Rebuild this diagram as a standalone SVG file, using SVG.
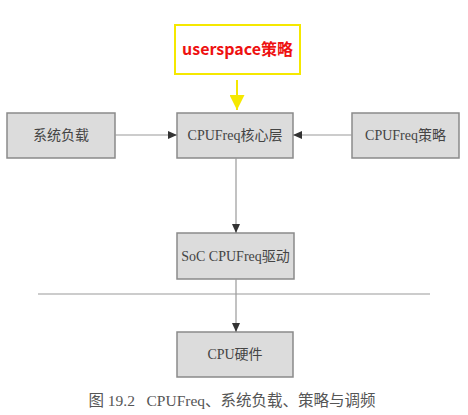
<svg xmlns="http://www.w3.org/2000/svg" width="468" height="415" viewBox="0 0 468 415">
<style>
.box{fill:#dcdcdc;stroke:#8a8a8a;stroke-width:1.5}
.lbl{font-family:"Liberation Serif","Noto Sans CJK SC",serif;font-size:14px;fill:#444;text-anchor:middle}
.ln{stroke:#999;stroke-width:1.2;fill:none}
</style>
<defs>
<marker id="ah" markerWidth="10" markerHeight="8" refX="9" refY="4" orient="auto" markerUnits="userSpaceOnUse">
<path d="M0,0 L9,4 L0,8 Z" fill="#333"/>
</marker>
<marker id="ay" markerWidth="16" markerHeight="15" refX="15" refY="7.5" orient="auto" markerUnits="userSpaceOnUse">
<path d="M0,0 L15,7.5 L0,15 Z" fill="#f5e800"/>
</marker>
</defs>
<rect width="468" height="415" fill="#fff"/>
<g id="userspace">
<rect x="175" y="25" width="125" height="49" fill="#fff" stroke="#f5e800" stroke-width="2"/>
<text x="237.5" y="55" font-family="'Noto Sans CJK SC','Noto Sans',sans-serif" font-size="16" font-weight="bold" fill="#ee1111" text-anchor="middle">userspace策略</text>
</g>
<g id="load">
<rect class="box" x="7" y="113" width="108" height="45"/>
<text class="lbl" x="61" y="140">系统负载</text>
</g>
<g id="core">
<rect class="box" x="177" y="113" width="116" height="45"/>
<text class="lbl" x="235" y="140">CPUFreq核心层</text>
</g>
<g id="policy">
<rect class="box" x="352" y="113" width="107" height="45"/>
<text class="lbl" x="405.5" y="140">CPUFreq策略</text>
</g>
<g id="soc">
<rect class="box" x="177" y="233" width="117" height="46"/>
<text class="lbl" x="235.5" y="261">SoC CPUFreq驱动</text>
</g>
<g id="hw">
<rect class="box" x="177" y="332" width="116" height="45"/>
<text class="lbl" x="235" y="359">CPU硬件</text>
</g>
<g id="connectors">
<line x1="237" y1="80" x2="237" y2="110" stroke="#f5e800" stroke-width="2" marker-end="url(#ay)"/>
<line class="ln" x1="115" y1="135" x2="177" y2="135" marker-end="url(#ah)"/>
<line class="ln" x1="352" y1="135" x2="293" y2="135" marker-end="url(#ah)"/>
<line class="ln" x1="236" y1="158" x2="236" y2="233" marker-end="url(#ah)"/>
<line class="ln" x1="236" y1="279" x2="236" y2="332" marker-end="url(#ah)"/>
<line class="ln" x1="38" y1="294" x2="430" y2="294"/>
</g>
<text x="232" y="406" font-family="'Liberation Serif','Noto Sans CJK SC',serif" font-size="15.5" fill="#555" text-anchor="middle" xml:space="preserve">图 19.2   CPUFreq、系统负载、策略与调频</text>
</svg>
